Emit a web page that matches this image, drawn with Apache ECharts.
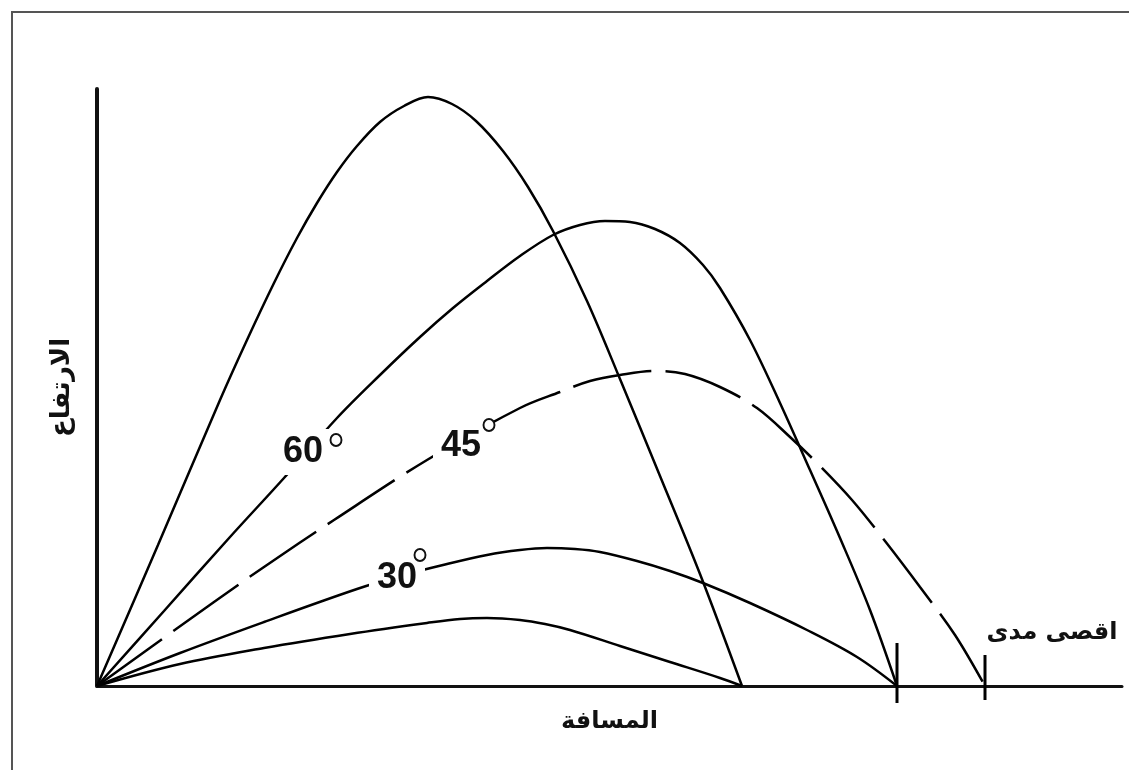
<!DOCTYPE html>
<html>
<head>
<meta charset="utf-8">
<script src="https://cdn.jsdelivr.net/npm/echarts@6/dist/echarts.min.js"></script>
<style>
  html, body { margin: 0; padding: 0; background: #fff; }
  #chart { width: 1129px; height: 770px; }
</style>
</head>
<body>
<div id="chart"></div>
<script>
// Trajectories: [distance, height] (arbitrary units)
const traj75 = [[0,0],[61,141],[123,286],[150,346],[177,403],[200,448],[220,483],[240,514],[260,540],[283,564],[307,580],[331,589],[355,582],[379,565],[406,535],[431,499],[456,455],[490,385],[523,307],[563,210],[603,112],[645,0]];
const traj60 = [[0,0],[67,75],[133,149],[187,208],[240,268],[283,311],[323,349],[356,378],[390,405],[423,430],[456,451],[483,461],[508,465],[533,464],[558,457],[583,443],[606,421],[623,398],[653,346],[683,283],[713,216],[743,148],[773,76],[800,0]];
const traj45 = [[0,0],[117,84],[167,119],[237,166],[330,226],[423,278],[463,294],[493,305],[523,311],[558,315],[588,312],[623,299],[660,278],[693,249],[723,220],[755,186],[788,145],[823,99],[858,51],[888,0]];
const traj30 = [[0,0],[83,33],[167,64],[260,97],[303,110],[346,121],[390,131],[423,136],[450,138],[478,137],[503,134],[540,125],[573,115],[606,103],[653,83],[710,56],[760,29],[800,0]];
const traj15 = [[0,0],[83,22],[167,38],[253,52],[330,63],[363,67],[390,68],[423,66],[448,62],[473,56],[523,40],[573,24],[623,8],[645,0]];

// Angle labels: [x, y, text]; degree circles: [x, y]
const angleLabels = [[206,234,'60'],[364,240,'45'],[300,108,'30']];
const degreeMarks = [[239,246],[392,261],[323,131]];

// Maximum range markers
const rangeTickX = [800, 888];
const rangeTickTop = [43, 31];
const rangeTickBottom = [-17, -14];
const maxRangeLabel = [[955, 53, 'اقصى مدى']];

const xName = 'المسافة';
const yName = 'الارتفاع';

const arabicFont = "'DejaVu Sans', 'Noto Sans', sans-serif";
const latinFont = "'Liberation Sans', Arial, sans-serif";

const chart = echarts.init(document.getElementById('chart'), null, { renderer: 'canvas' });

function trajSeries(name, data, dashed) {
  return {
    name: name,
    type: 'line',
    data: data,
    smooth: 0.35,
    showSymbol: false,
    symbol: 'none',
    silent: true,
    z: 2,
    lineStyle: { color: '#000', width: 2.5, type: dashed ? [80, 14] : 'solid' }
  };
}

const tickSeries = rangeTickX.map((x, i) => ({
  type: 'line',
  data: [[x, rangeTickTop[i]], [x, rangeTickBottom[i]]],
  symbol: 'none',
  clip: false,
  silent: true,
  z: 3,
  lineStyle: { color: '#000', width: 3 }
}));

const textScatter = (data, z, labelOpts) => ({
  type: 'scatter', data: data, symbolSize: 0, silent: true, z: z,
  itemStyle: { color: '#000', opacity: 1 },
  label: Object.assign({ show: true, position: 'inside', opacity: 1, formatter: p => p.data[2] }, labelOpts)
});

const option = {
  animation: false,
  backgroundColor: '#fff',
  graphic: [{
    type: 'rect',
    shape: { x: 12, y: 12, width: 1140, height: 800 },
    style: { fill: 'none', stroke: '#555', lineWidth: 2 },
    silent: true
  }],
  grid: { left: 97, right: 7, top: 89, bottom: 84 },
  xAxis: {
    type: 'value', min: 0, max: 1025,
    name: xName, nameLocation: 'middle', nameGap: 24,
    nameTextStyle: { fontFamily: arabicFont, fontWeight: 'bold', fontSize: 24, color: '#111' },
    axisLine: { show: true, onZero: true, lineStyle: { color: '#111', width: 3 } },
    axisTick: { show: false }, axisLabel: { show: false }, splitLine: { show: false }
  },
  yAxis: {
    type: 'value', min: 0, max: 597,
    name: yName, nameLocation: 'middle', nameGap: 22, nameRotate: 90,
    nameTextStyle: { fontFamily: arabicFont, fontWeight: 'bold', fontSize: 26, color: '#111' },
    axisLine: { show: true, lineStyle: { color: '#111', width: 4 } },
    axisTick: { show: false }, axisLabel: { show: false }, splitLine: { show: false }
  },
  series: [
    trajSeries('75', traj75, false),
    trajSeries('60', traj60, false),
    trajSeries('45', traj45, true),
    trajSeries('30', traj30, false),
    trajSeries('15', traj15, false),
    ...tickSeries,
    textScatter(angleLabels, 10, {
      fontFamily: latinFont, fontWeight: 'bold', fontSize: 36, color: '#111',
      backgroundColor: '#fff', padding: [6, 8, 4, 8]
    }),
    {
      type: 'scatter', data: degreeMarks, symbol: 'circle', symbolSize: [11, 12],
      silent: true, z: 11,
      itemStyle: { color: '#fff', borderColor: '#111', borderWidth: 2, opacity: 1 }
    },
    textScatter(maxRangeLabel, 11, {
      fontFamily: arabicFont, fontWeight: 'bold', fontSize: 24, color: '#111'
    })
  ]
};

chart.setOption(option);
</script>
</body>
</html>
